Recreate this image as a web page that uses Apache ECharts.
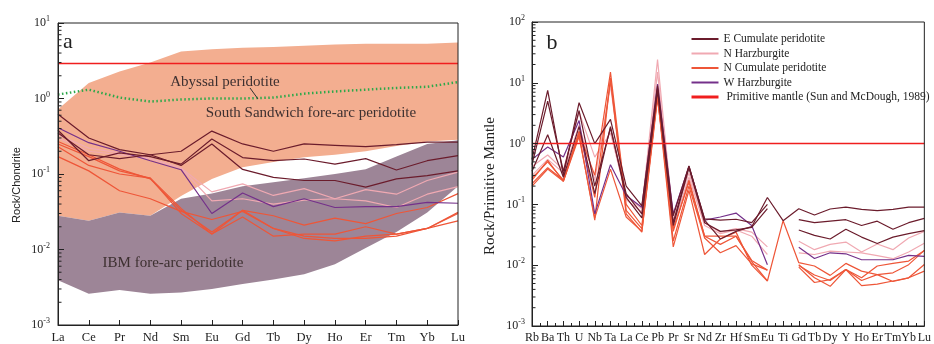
<!DOCTYPE html>
<html><head><meta charset="utf-8">
<script src="https://cdn.jsdelivr.net/npm/echarts@6/dist/echarts.min.js"></script>
<style>html,body{margin:0;padding:0;background:#fff}#c{width:934px;height:344px}</style>
</head><body><div id="c"></div>
<script>
// ---------- Panel a (REE, chondrite-normalised) ----------
const catsA = ['La','Ce','Pr','Nd','Sm','Eu','Gd','Tb','Dy','Ho','Er','Tm','Yb','Lu'];
const ssUpper  = [0.72,1.6,2.27,3.0,4.2,4.5,4.7,4.8,5.0,5.2,5.3,5.3,5.3,5.5];
const ssLower  = [0.028,0.024,0.031,0.028,0.051,0.086,0.123,0.144,0.167,0.18,0.2,0.235,0.27,0.285];
const ibmUpper = [0.028,0.024,0.031,0.028,0.047,0.055,0.069,0.078,0.088,0.1,0.116,0.17,0.25,0.28];
const ibmLower = [0.0039,0.0026,0.0029,0.0026,0.0027,0.003,0.0035,0.004,0.0047,0.0064,0.0105,0.017,0.031,0.069];
const abyssal  = [1.13,1.31,1.03,0.91,0.97,1.0,1.0,1.03,1.16,1.24,1.31,1.38,1.43,1.65];
const pmA      = [2.9,2.9,2.9,2.9,2.9,2.9,2.9,2.9,2.9,2.9,2.9,2.9,2.9,2.9];
const eA1  = [0.62,0.30,0.21,0.18,0.20,0.37,0.25,0.20,0.25,0.24,0.23,0.245,0.265,0.265];
const eA2  = [0.38,0.15,0.19,0.17,0.135,0.29,0.165,0.15,0.158,0.135,0.16,0.113,0.15,0.175];
const eA3  = [0.35,0.18,0.16,0.18,0.13,0.25,0.115,0.09,0.082,0.082,0.067,0.086,0.095,0.11];
const wA   = [0.41,0.26,0.20,0.15,0.114,0.03,0.056,0.037,0.047,0.036,0.037,0.037,0.042,0.041];
const nhA1 = [0.33,0.22,0.19,0.16,0.12,0.058,0.074,0.052,0.064,0.047,0.062,0.054,0.082,0.106];
const nhA2 = [0.30,0.20,0.18,0.16,0.12,0.044,0.047,0.040,0.045,0.047,0.044,0.036,0.054,0.068];
const ncA1 = [0.27,0.18,0.116,0.086,0.033,0.017,0.033,0.028,0.021,0.026,0.022,0.030,0.036,0.055];
const ncA2 = [0.23,0.13,0.10,0.088,0.030,0.016,0.027,0.015,0.016,0.016,0.020,0.016,0.019,0.031];
const ncA3 = [0.17,0.11,0.06,0.047,0.032,0.025,0.032,0.019,0.014,0.013,0.015,0.016,0.019,0.024];
const ncA4 = [0.25,0.17,0.11,0.088,0.035,0.016,0.033,0.019,0.015,0.014,0.014,0.015,0.019,0.030];

// ---------- Panel b (spider, primitive-mantle-normalised) ----------
const catsB = ['Rb','Ba','Th','U','Nb','Ta','La','Ce','Pb','Pr','Sr','Nd','Zr','Hf','Sm','Eu','Ti','Gd','Tb','Dy','Y','Ho','Er','Tm','Yb','Lu'];
const pmB  = [1,1,1,1,1,1,1,1,1,1,1,1,1,1,1,1,1,1,1,1,1,1,1,1,1,1];
const eB1  = [0.55,7.5,0.30,4.7,1.0,2.5,0.20,0.095,9.0,0.065,0.43,0.055,0.027,0.036,0.043,0.13,0.054,0.085,0.067,0.084,0.09,0.083,0.079,0.083,0.09,0.09];
const eB2  = [0.45,5.0,0.35,3.5,0.20,1.8,0.15,0.070,8.0,0.050,0.42,0.058,0.055,0.057,0.050,0.10,null,0.056,0.050,0.053,0.056,0.045,0.053,0.039,0.050,0.059];
const eB3  = [0.35,1.4,0.28,1.9,0.15,1.9,0.13,0.060,7.5,0.045,0.40,0.050,0.036,0.038,0.042,0.085,null,0.038,0.031,0.027,0.039,0.029,0.0227,0.029,0.033,0.037];
const nhB1 = [0.42,0.65,0.37,3.3,0.60,1.5,0.14,0.085,24,0.055,0.33,0.050,0.035,0.040,0.035,0.020,null,0.0247,0.018,0.022,0.024,0.0165,0.0223,0.018,0.028,0.036];
const nhB2 = [0.30,0.55,0.33,2.0,0.25,9.0,0.12,0.075,15,0.045,0.28,0.045,0.033,0.038,0.030,0.015,null,0.016,0.015,0.017,0.0165,0.016,0.0144,0.0128,0.0165,0.023];
const wB   = [0.55,0.88,0.60,2.4,0.07,0.45,0.14,0.090,9.5,0.070,0.42,0.055,0.062,0.072,0.045,0.0102,null,0.0197,0.0129,0.016,0.0154,0.0123,0.0123,0.0123,0.0145,0.014];
const ncB1 = [0.25,0.53,0.24,1.5,0.30,15,0.10,0.045,7.0,0.036,0.25,0.030,0.030,0.030,0.0115,0.0055,0.054,0.011,0.0097,0.0068,0.0107,0.008,0.007,0.0054,0.0062,0.0103];
const ncB2 = [0.22,0.40,0.25,1.4,0.055,12,0.08,0.040,6.0,0.020,0.17,0.015,0.027,0.035,0.010,0.0055,null,0.0099,0.0069,0.0056,0.0085,0.0056,0.007,0.0075,0.0102,0.0175];
const ncB3 = [0.20,0.38,0.24,1.3,0.06,0.38,0.062,0.036,6.5,0.025,0.20,0.028,0.016,0.021,0.0105,0.0083,null,0.0093,0.0052,0.0058,0.0085,0.0046,0.0049,0.0055,0.0062,0.008];
const ncB4 = [0.27,0.50,0.25,1.6,0.13,11,0.07,0.035,5.5,0.040,0.23,0.030,0.022,0.030,0.012,0.0083,null,0.0102,0.0062,0.0045,0.0085,0.0062,0.0097,0.0107,0.0117,0.0175];

const NAME_E = 'E Cumulate peridotite', NAME_NH = 'N Harzburgite', NAME_NC = 'N Cumulate peridotite',
      NAME_W = 'W Harzburgite', NAME_PM = ' Primitive mantle (Sun and McDough, 1989)';
const C_E = '#6b1c2c', C_NH = '#f0a9b2', C_NC = '#ee5638', C_W = '#74308a', C_PM = '#f01e1e';
const SERIF = '"Liberation Serif","Times New Roman",serif';
const SANS = '"Liberation Sans",Arial,sans-serif';
const INK = '#222';

const chart = echarts.init(document.getElementById('c'));

function pairs(arr){ return arr.map((v,i)=> v==null ? [i,'-'] : [i,v]); }
function line(gi, name, arr, color, width, extra){
  return Object.assign({
    type:'line', name:name, xAxisIndex:gi, yAxisIndex:gi, data:pairs(arr),
    symbol:'none', connectNulls:false, silent:true, animation:false, z:3,
    lineStyle:{color:color, width:width}, itemStyle:{color:color}
  }, extra||{});
}
function band(gi, upper, lower, color){
  return {
    type:'custom', xAxisIndex:gi, yAxisIndex:gi, z:1, silent:true, animation:false,
    data: upper.map((v,i)=>[i,v]), encode:{x:0,y:1},
    renderItem:(params, api)=>{
      if (params.dataIndex !== 0) return null;
      const pts = [];
      upper.forEach((v,i)=>pts.push(api.coord([i,v])));
      for (let i=lower.length-1;i>=0;i--) pts.push(api.coord([i,lower[i]]));
      return {type:'polygon', shape:{points:pts}, style:{fill:color}};
    }
  };
}
function minorTicks(gi, d0, d1){
  return {
    type:'custom', xAxisIndex:gi, yAxisIndex:gi, z:12, silent:true, animation:false,
    data:[[0,1]], encode:{x:0,y:1},
    renderItem:(params, api)=>{
      const ch = [];
      for (let k=d0;k<d1;k++) for (let m=2;m<=9;m++){
        const p = api.coord([0, m*Math.pow(10,k)]);
        ch.push({type:'line', shape:{x1:p[0], y1:p[1], x2:p[0]+3.5, y2:p[1]}, style:{stroke:INK, lineWidth:1}});
      }
      return {type:'group', children:ch};
    }
  };
}
function yAx(gi, min, max, margin){
  return {
    gridIndex:gi, type:'log', logBase:10, min:min, max:max, z:10,
    axisLine:{show:true, lineStyle:{color:INK, width:1}},
    axisTick:{show:true, inside:true, length:6, lineStyle:{color:INK, width:1}},
    splitLine:{show:false},
    axisLabel:{margin:margin, formatter:v=>'{b|10}{s|'+Math.round(Math.log10(v))+'}',
      rich:{b:{fontFamily:SERIF, fontSize:12, color:INK}, s:{fontFamily:SERIF, fontSize:8, color:INK, padding:[0,0,8,0]}}}
  };
}

const option = {
  animation:false,
  backgroundColor:'#fff',
  grid:[
    {left:58, top:23, width:400, height:304, show:true, borderColor:INK, borderWidth:1, backgroundColor:'transparent', z:10},
    {left:532, top:22, width:398, height:306, show:true, borderColor:INK, borderWidth:1, backgroundColor:'transparent', z:10}
  ],
  xAxis:[
    {gridIndex:0, type:'value', min:0, max:13, interval:1, z:10,
     axisLine:{lineStyle:{color:INK}}, axisTick:{inside:true, length:5, lineStyle:{color:INK}},
     splitLine:{show:false},
     axisLabel:{margin:6, formatter:v=>catsA[Math.round(v)]||'', fontFamily:SERIF, fontSize:12.5, color:INK}},
    {gridIndex:1, type:'value', min:0, max:25, interval:1, z:10,
     axisLine:{lineStyle:{color:INK}}, axisTick:{inside:true, length:5, lineStyle:{color:INK}},
     minorTick:{show:true, splitNumber:2, length:3, lineStyle:{color:INK}},
     splitLine:{show:false},
     axisLabel:{margin:6, formatter:v=>catsB[Math.round(v)]||'', fontFamily:SERIF, fontSize:12, color:INK}}
  ],
  yAxis:[ yAx(0, 0.001, 10, 8), yAx(1, 0.001, 100, 7) ],
  legend:{
    left:685, top:28, orient:'vertical', itemWidth:27, itemHeight:14, itemGap:2.5,
    itemStyle:{opacity:0},
    data:[NAME_E, NAME_NH, NAME_NC, NAME_W, {name:NAME_PM, lineStyle:{width:3}}],
    textStyle:{fontFamily:SERIF, fontSize:11.5, color:INK}, selectedMode:false
  },
  series:[
    band(0, ssUpper, ssLower, '#f3ae90'),
    band(0, ibmUpper, ibmLower, '#9d8597'),
    line(0, NAME_PM, pmA, C_PM, 1.5, {z:4}),
    line(0, 'Abyssal', abyssal, '#2da84a', 2.5, {lineStyle:{color:'#2da84a', width:2.5, type:[1.5,2.5]}}),
    line(0, NAME_NH, nhA1, C_NH, 1.2), line(0, NAME_NH, nhA2, C_NH, 1.2),
    line(0, NAME_NC, ncA1, C_NC, 1.2), line(0, NAME_NC, ncA2, C_NC, 1.2),
    line(0, NAME_NC, ncA3, C_NC, 1.2), line(0, NAME_NC, ncA4, C_NC, 1.2),
    line(0, NAME_W, wA, C_W, 1.2),
    line(0, NAME_E, eA1, C_E, 1.2), line(0, NAME_E, eA2, C_E, 1.2), line(0, NAME_E, eA3, C_E, 1.2),
    minorTicks(0, -3, 1),

    line(1, NAME_NH, nhB1, C_NH, 1.2), line(1, NAME_NH, nhB2, C_NH, 1.2),
    line(1, NAME_NC, ncB1, C_NC, 1.2), line(1, NAME_NC, ncB2, C_NC, 1.2),
    line(1, NAME_NC, ncB3, C_NC, 1.2), line(1, NAME_NC, ncB4, C_NC, 1.2),
    line(1, NAME_W, wB, C_W, 1.2),
    line(1, NAME_E, eB1, C_E, 1.2), line(1, NAME_E, eB2, C_E, 1.2), line(1, NAME_E, eB3, C_E, 1.2),
    line(1, NAME_PM, pmB, C_PM, 1.5, {z:4}),
    minorTicks(1, -3, 2)
  ],
  graphic:[
    {type:'text', z:100, x:68, y:42, style:{text:'a', fontFamily:SERIF, fontSize:22, fill:INK, align:'center', verticalAlign:'middle'}},
    {type:'text', z:100, x:552, y:43, style:{text:'b', fontFamily:SERIF, fontSize:22, fill:INK, align:'center', verticalAlign:'middle'}},
    {type:'text', z:100, x:225, y:82, style:{text:'Abyssal peridotite', fontFamily:SERIF, fontSize:15, fill:'#3d3030', align:'center', verticalAlign:'middle'}},
    {type:'text', z:100, x:311, y:113, style:{text:'South Sandwich fore-arc peridotite', fontFamily:SERIF, fontSize:15, fill:'#3d3030', align:'center', verticalAlign:'middle'}},
    {type:'text', z:100, x:173, y:263, style:{text:'IBM fore-arc peridotite', fontFamily:SERIF, fontSize:15, fill:'#3d3030', align:'center', verticalAlign:'middle'}},
    {type:'line', z:100, shape:{x1:250, y1:88, x2:258, y2:99}, style:{stroke:'#333', lineWidth:1}},
    {type:'text', z:100, x:17, y:185, rotation:Math.PI/2, style:{text:'Rock/Chondrite', fontFamily:SANS, fontSize:11, fill:INK, align:'center', verticalAlign:'middle'}},
    {type:'text', z:100, x:490, y:186, rotation:Math.PI/2, style:{text:'Rock/Primitive Mantle', fontFamily:SERIF, fontSize:15, fill:INK, align:'center', verticalAlign:'middle'}}
  ]
};
chart.setOption(option);
</script></body></html>
